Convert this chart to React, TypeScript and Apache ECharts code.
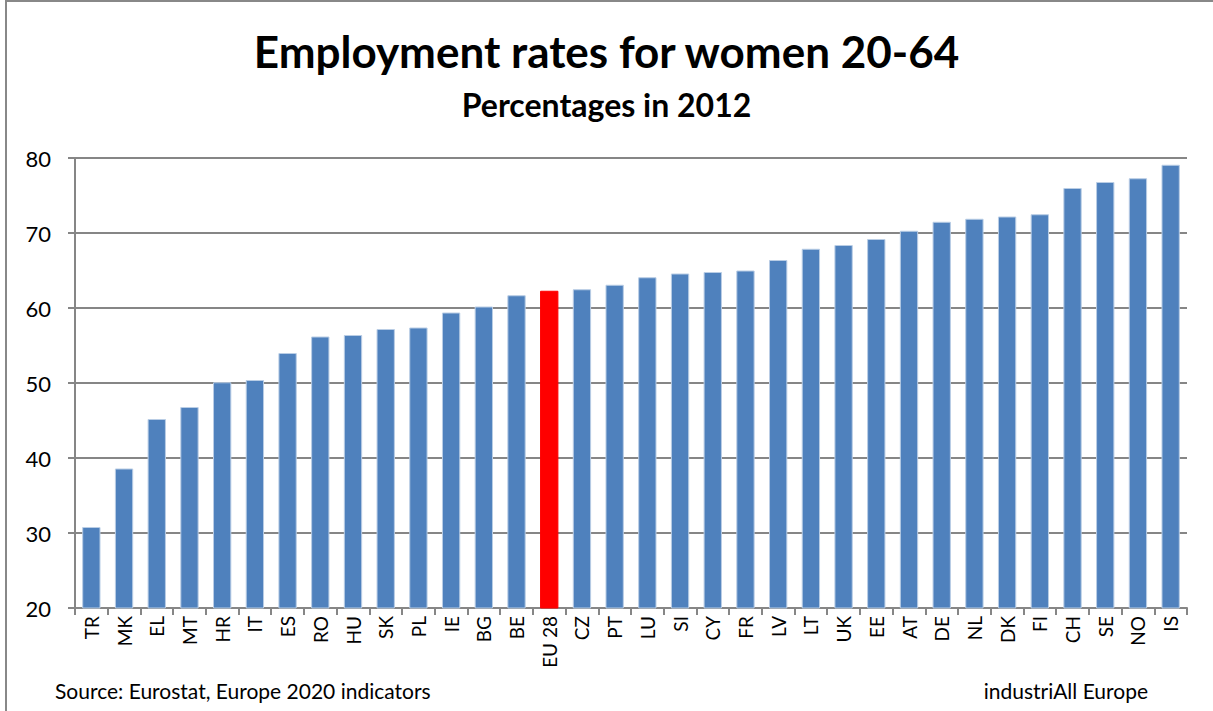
import React, { useEffect, useRef } from "react";
import * as echarts from "echarts";

const countries = ["TR","MK","EL","MT","HR","IT","ES","RO","HU","SK","PL","IE","BG","BE","EU 28","CZ","PT","LU","SI","CY","FR","LV","LT","UK","EE","AT","DE","NL","DK","FI","CH","SE","NO","IS"];
const rates = [30.8,38.6,45.2,46.8,50.1,50.4,54.0,56.2,56.4,57.2,57.4,59.4,60.2,61.7,62.3,62.5,63.1,64.1,64.6,64.8,65.0,66.4,67.9,68.4,69.2,70.3,71.5,71.9,72.2,72.5,76.0,76.8,77.3,79.1];
const highlight = "EU 28";
const yTicks = { min: 20, max: 80, interval: 10 };

const FONT = "Lato, 'Open Sans', sans-serif";

export default function App() {
  const ref = useRef<HTMLDivElement>(null);
  useEffect(() => {
    if (!ref.current) return;
    const chart = echarts.init(ref.current, undefined, { renderer: "svg" });
    chart.setOption({
      animation: false,
      backgroundColor: "#ffffff",
      title: [
        {
          text: "Employment rates for women 20-64",
          left: "center",
          top: 24,
          textStyle: { fontFamily: FONT, fontWeight: "bold", fontSize: 44, color: "#000" },
        },
        {
          text: "Percentages in 2012",
          left: "center",
          top: 83,
          textStyle: { fontFamily: FONT, fontWeight: "bold", fontSize: 32, color: "#000" },
        },
      ],
      grid: { left: 75, right: 26, top: 158, bottom: 103, containLabel: false },
      xAxis: {
        type: "category",
        data: countries,
        axisLine: { lineStyle: { color: "#868686", width: 2 } },
        axisTick: { show: true, alignWithLabel: false, length: 7, lineStyle: { color: "#868686", width: 2 } },
        axisLabel: { rotate: 90, interval: 0, fontFamily: FONT, fontSize: 19, color: "#000", margin: 8 },
      },
      yAxis: {
        type: "value",
        min: yTicks.min,
        max: yTicks.max,
        interval: yTicks.interval,
        axisLine: { show: true, lineStyle: { color: "#868686", width: 2 } },
        axisTick: { show: true, length: 7, lineStyle: { color: "#868686", width: 2 } },
        axisLabel: { fontFamily: FONT, fontSize: 22, color: "#000", margin: 24 },
        splitLine: { show: true, lineStyle: { color: "#868686", width: 2 } },
      },
      series: [
        {
          type: "bar",
          barCategoryGap: "44%",
          data: rates.map((v, i) => ({
            value: v,
            itemStyle: {
              color: countries[i] === highlight ? "#FF0000" : "#4F81BD",
              borderColor: countries[i] === highlight ? "#FF0000" : "#B9CDE5",
              borderWidth: 1,
            },
          })),
        },
      ],
      graphic: [
        {
          type: "rect",
          shape: { x: 6, y: 1, width: 1400, height: 900 },
          style: { fill: "none", stroke: "#888888", lineWidth: 2 },
          silent: true,
        },
        {
          type: "text",
          left: 55,
          top: 680,
          style: { text: "Source: Eurostat, Europe 2020 indicators", fontFamily: FONT, fontSize: 21, fill: "#000" },
        },
        {
          type: "text",
          right: 65,
          top: 680,
          style: { text: "industriAll Europe", fontFamily: FONT, fontSize: 21, fill: "#000" },
        },
      ],
    });
    return () => chart.dispose();
  }, []);
  return (
    <div
      ref={ref}
      style={{ position: "absolute", left: 0, top: 0, width: 1213, height: 711 }}
    />
  );
}
